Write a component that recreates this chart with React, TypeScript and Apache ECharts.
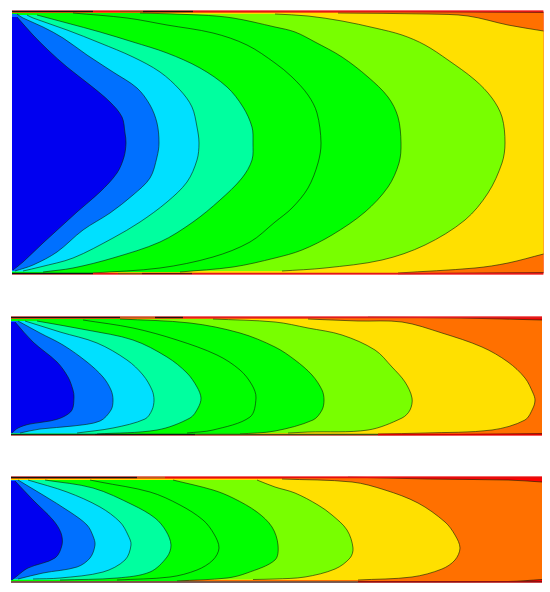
import React, { useEffect, useRef } from "react";
import * as echarts from "echarts";

type P = number[];

// Band colours, from the outer wall (red) to the inlet core (blue)
const bandColors = ["#ff7000", "#ffe000", "#78ff00", "#00ff00", "#00ff00", "#00ff9f", "#00e0ff", "#0070ff", "#0000f0"];
const outerColor = "#ff0000";

// Panel 1 iso-lines, outermost first
const p1L9: P[] = [[338, 11.5], [430, 11.8], [543.5, 12.5], [543.5, 272.5], [430, 273.5], [398, 274]];
const p1L8: P[] = [[338, 13], [428, 14], [468, 16], [508, 25], [543.5, 31], [543.5, 254], [508, 263], [475, 268], [398, 273]];
const p1L7: P[] = [[275, 14], [308, 16], [342, 21], [375, 28], [402, 35], [425, 45], [448, 60], [475, 80], [492, 98], [502, 117], [505, 143], [502, 163], [488, 193], [465, 220], [425, 245], [382, 260], [325, 268], [282, 271]];
const p1L6: P[] = [[140, 13], [200, 15], [233, 18], [275, 27], [295, 32], [315, 42], [342, 57], [368, 77], [388, 97], [398, 117], [401, 143], [399, 163], [388, 187], [365, 212], [332, 235], [302, 250], [275, 258], [233, 267], [180, 272]];
const p1L5: P[] = [[73, 13], [127, 18], [167, 25], [213, 33], [247, 45], [275, 63], [292, 77], [308, 95], [317, 113], [321, 143], [318, 163], [308, 188], [292, 208], [275, 222], [250, 242], [213, 257], [160, 268], [93, 273]];
const p1L4: P[] = [[37, 15], [67, 23], [100, 32], [133, 42], [167, 53], [200, 68], [227, 87], [243, 107], [252, 127], [253, 143], [252, 160], [242, 178], [220, 200], [193, 222], [160, 242], [113, 258], [73, 268], [43, 272]];
const p1L3: P[] = [[27, 15], [33, 18], [67, 30], [100, 43], [133, 57], [160, 72], [180, 90], [192, 107], [197, 127], [199, 143], [197, 160], [187, 182], [167, 202], [140, 222], [113, 238], [73, 258], [40, 267], [23, 271]];
const p1L2: P[] = [[17, 14], [23, 18], [43, 27], [63, 38], [87, 55], [113, 72], [137, 88], [150, 105], [157, 123], [159, 143], [157, 157], [150, 178], [133, 195], [110, 213], [83, 230], [57, 252], [33, 265], [15, 271]];
const p1L1: P[] = [[17, 17], [33, 35], [48, 50], [67, 67], [90, 85], [110, 102], [122, 117], [125, 133], [126, 143], [124, 157], [117, 173], [100, 192], [77, 212], [43, 243], [23, 262], [13, 270]];

// Panel 2 iso-lines
const p2L9: P[] = [[368, 317], [460, 318], [542, 320], [542, 433.5], [460, 434.5], [378, 435]];
const p2L8: P[] = [[308, 319], [358, 321], [402, 322], [442, 333], [482, 347], [508, 362], [525, 378], [533, 393], [535, 400], [533, 408], [525, 420], [492, 430], [425, 433], [378, 434]];
const p2L7: P[] = [[213, 319], [275, 322], [308, 328], [342, 335], [375, 350], [392, 367], [405, 382], [412, 398], [410, 410], [402, 418], [368, 430], [308, 432], [288, 433]];
const p2L6: P[] = [[120, 319], [190, 323], [240, 333], [275, 347], [295, 360], [312, 375], [322, 390], [324, 400], [322, 410], [313, 420], [275, 431], [240, 434]];
const p2L5: P[] = [[83, 320], [133, 328], [177, 340], [217, 355], [240, 370], [252, 385], [256, 398], [250, 417], [213, 430], [187, 433]];
const p2L4: P[] = [[37, 321], [87, 330], [133, 340], [167, 357], [187, 373], [197, 387], [201, 398], [198, 408], [190, 418], [157, 430], [97, 434]];
const p2L3: P[] = [[25, 321], [60, 332], [97, 343], [127, 360], [143, 375], [152, 390], [154, 400], [152, 410], [145, 419], [113, 428], [77, 433]];
const p2L2: P[] = [[18, 321], [40, 333], [63, 345], [87, 362], [103, 377], [111, 390], [113, 400], [111, 410], [100, 421], [73, 426], [40, 429], [20, 433]];
const p2L1: P[] = [[15, 322], [33, 342], [57, 362], [68, 377], [73, 390], [74, 397], [72, 410], [63, 417], [50, 421], [30, 424], [18, 428], [12, 433]];

// Panel 3 iso-lines
const p3L9: P[] = [[348, 477], [428, 479], [508, 480], [542, 482], [542, 579.5], [508, 581.5], [358, 582]];
const p3L8: P[] = [[282, 479], [352, 482], [385, 490], [418, 503], [445, 522], [455, 535], [460, 548], [455, 560], [442, 569], [412, 577], [358, 580]];
const p3L7: P[] = [[257, 480], [275, 487], [295, 493], [318, 505], [332, 515], [347, 530], [353, 548], [350, 558], [335, 569], [305, 577], [275, 579], [253, 579.5]];
const p3L6: P[] = [[173, 480], [213, 490], [233, 498], [257, 512], [272, 527], [278, 545], [275, 560], [247, 573], [227, 578], [177, 581]];
const p3L5: P[] = [[90, 480], [100, 482], [150, 492], [180, 505], [203, 520], [214, 534], [219, 548], [213, 560], [197, 570], [170, 577], [117, 580]];
const p3L4: P[] = [[45, 480], [93, 488], [133, 505], [155, 518], [166, 531], [171, 545], [167, 557], [150, 572], [117, 578], [60, 580]];
const p3L3: P[] = [[28, 480], [67, 492], [100, 507], [120, 522], [128, 535], [131, 545], [125, 560], [103, 572], [60, 578], [33, 579]];
const p3L2: P[] = [[18, 480], [43, 495], [70, 512], [87, 525], [93, 536], [95, 545], [90, 558], [77, 567], [43, 573], [18, 579]];
const p3L1: P[] = [[15, 481], [33, 500], [53, 520], [61, 533], [62, 545], [55, 558], [28, 568], [17, 576], [12, 580]];

const panelBounds = [
  { x0: 12, x1: 543.5, y0: 10.5, y1: 274.5 },
  { x0: 11, x1: 542, y0: 316.5, y1: 435.5 },
  { x0: 11, x1: 542, y0: 476.5, y1: 582.5 },
];

const panelLines: P[][][] = [
  [p1L9, p1L8, p1L7, p1L6, p1L5, p1L4, p1L3, p1L2, p1L1],
  [p2L9, p2L8, p2L7, p2L6, p2L5, p2L4, p2L3, p2L2, p2L1],
  [p3L9, p3L8, p3L7, p3L6, p3L5, p3L4, p3L3, p3L2, p3L1],
];

// Wall strips: [panel, y, xStart, xEnd, colour]
const wallSegments: [number, number, number, number, string][] = [
  [0, 11.5, 12, 93, "#141414"],
  [0, 11.5, 93, 120, "#e01818"],
  [0, 11.5, 120, 143, "#805010"],
  [0, 11.5, 143, 193, "#201010"],
  [0, 11.5, 193, 543, "#e01818"],
  [0, 273.5, 12, 93, "#141414"],
  [0, 273.5, 93, 118, "#e01818"],
  [0, 273.5, 118, 142, "#805010"],
  [0, 273.5, 142, 192, "#601010"],
  [0, 273.5, 192, 543, "#e01818"],
  [1, 317.5, 11, 120, "#141414"],
  [1, 317.5, 120, 155, "#b06020"],
  [1, 317.5, 155, 183, "#201010"],
  [1, 317.5, 183, 542, "#d82020"],
  [1, 434.5, 11, 95, "#103010"],
  [1, 434.5, 95, 195, "#101810"],
  [1, 434.5, 195, 378, "#405010"],
  [1, 434.5, 378, 542, "#d80000"],
  [2, 477.5, 11, 137, "#141414"],
  [2, 477.5, 137, 165, "#b06020"],
  [2, 477.5, 165, 542, "#e01010"],
  [2, 582, 11, 358, "#505050"],
  [2, 581.8, 358, 542, "#901010"],
];

// Smooth SVG path through the screen points of one run of a contour.
function curvePath(pts: number[][]): string {
  const d: number[] = [];
  for (let i = 0; i < pts.length - 1; i++) d.push(Math.hypot(pts[i + 1][0] - pts[i][0], pts[i + 1][1] - pts[i][1]) || 1);
  const tangent = (i: number) => {
    if (i === 0) return [(pts[1][0] - pts[0][0]) / d[0], (pts[1][1] - pts[0][1]) / d[0]];
    const n = pts.length - 1;
    if (i === n) return [(pts[n][0] - pts[n - 1][0]) / d[n - 1], (pts[n][1] - pts[n - 1][1]) / d[n - 1]];
    const s = d[i - 1] + d[i];
    return [(pts[i + 1][0] - pts[i - 1][0]) / s, (pts[i + 1][1] - pts[i - 1][1]) / s];
  };
  let out = "";
  for (let i = 0; i < pts.length - 1; i++) {
    const t0 = tangent(i);
    const t1 = tangent(i + 1);
    const k = d[i] / 3;
    out += ` C${pts[i][0] + t0[0] * k} ${pts[i][1] + t0[1] * k} ${pts[i + 1][0] - t1[0] * k} ${pts[i + 1][1] - t1[1] * k} ${pts[i + 1][0]} ${pts[i + 1][1]}`;
  }
  return out;
}

// A contour that runs down the outlet wall is cut there into two runs.
function splitRuns(line: P[], xMax: number): P[][] {
  const runs: P[][] = [[line[0]]];
  for (let i = 1; i < line.length; i++) {
    if (line[i][0] >= xMax - 1 && line[i - 1][0] >= xMax - 1) runs.push([line[i]]);
    else runs[runs.length - 1].push(line[i]);
  }
  return runs;
}

function buildOption() {
  const grid = panelBounds.map((b) => ({
    show: true,
    left: b.x0,
    top: b.y0,
    width: b.x1 - b.x0,
    height: b.y1 - b.y0,
    backgroundColor: outerColor,
    borderWidth: 0,
    containLabel: false,
  }));
  const xAxis = panelBounds.map((b, i) => ({ type: "value", gridIndex: i, min: b.x0, max: b.x1, show: false }));
  const yAxis = panelBounds.map((b, i) => ({ type: "value", gridIndex: i, min: b.y0, max: b.y1, inverse: true, show: false }));
  const fills: any[] = [];
  const strokes: any[] = [];
  panelLines.forEach((lines, pi) => {
    const b = panelBounds[pi];
    lines.forEach((line, li) => {
      const base = { type: "custom", xAxisIndex: pi, yAxisIndex: pi, silent: true, data: line, clip: true };
      const runs = splitRuns(line, b.x1);
      fills.push({
        ...base,
        z: 2,
        renderItem: (params: any, api: any) => {
          if (params.dataIndex !== 0) return null;
          const start = api.coord([b.x0, line[0][1]]);
          const end = api.coord([b.x0, line[line.length - 1][1]]);
          let d = `M${start[0]} ${start[1]}`;
          runs.forEach((run) => {
            const pts = run.map((p) => api.coord(p));
            d += ` L${pts[0][0]} ${pts[0][1]}` + curvePath(pts);
          });
          d += ` L${end[0]} ${end[1]} Z`;
          return { type: "path", shape: { pathData: d }, style: { fill: bandColors[li], stroke: null } };
        },
      });
      strokes.push({
        ...base,
        z: 3,
        renderItem: (params: any, api: any) => {
          if (params.dataIndex !== 0) return null;
          const d = runs
            .map((run) => {
              const pts = run.map((p) => api.coord(p));
              return `M${pts[0][0]} ${pts[0][1]}` + curvePath(pts);
            })
            .join(" ");
          return { type: "path", shape: { pathData: d }, style: { fill: null, stroke: "rgba(10,30,10,0.6)", lineWidth: 1 } };
        },
      });
    });
  });
  const walls = wallSegments.map(([pi, y, a, c, color]) => ({
    type: "line",
    xAxisIndex: pi,
    yAxisIndex: pi,
    z: 4,
    symbol: "none",
    silent: true,
    data: [[a, y], [c, y]],
    lineStyle: { color, width: 1.6 },
  }));
  return { animation: false, backgroundColor: "#ffffff", grid, xAxis, yAxis, tooltip: { show: false }, series: [...fills, ...strokes, ...walls] };
}

export default function App() {
  const ref = useRef<HTMLDivElement>(null);
  useEffect(() => {
    document.body.style.margin = "0";
    const chart = echarts.init(ref.current!, undefined, { renderer: "svg" });
    chart.setOption(buildOption() as any);
    return () => chart.dispose();
  }, []);
  return <div ref={ref} style={{ position: "relative", width: 550, height: 592 }} />;
}
